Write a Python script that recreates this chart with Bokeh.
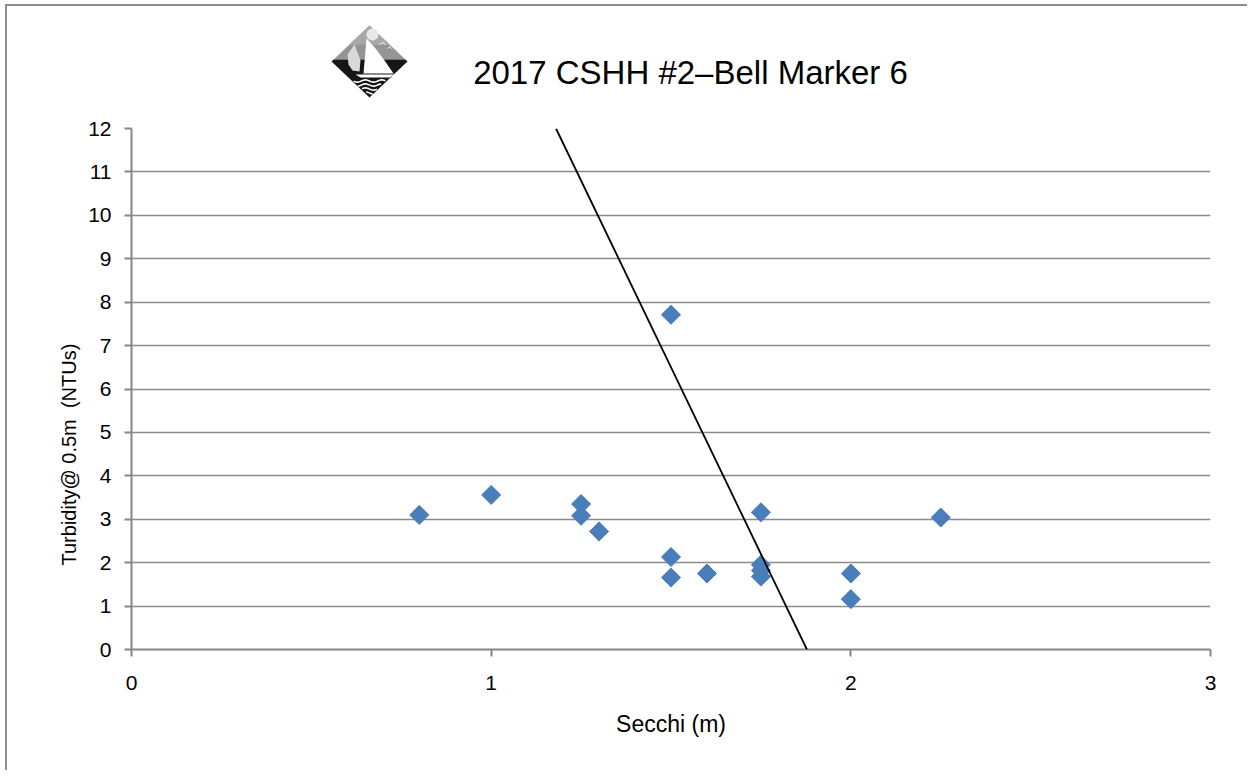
import numpy as np
from bokeh.plotting import figure
from bokeh.layouts import column
from bokeh.models import Range1d, FixedTicker, Slope, Title
from bokeh.embed import file_html
from bokeh.resources import INLINE
from bokeh.core.properties import value

# ---- chart data -------------------------------------------------------------
title_text = "2017 CSHH #2\u2013Bell Marker 6"
x_label = "Secchi (m)"
y_label = "Turbidity@ 0.5m\u00a0 (NTUs)"

secchi = [0.80, 1.00, 1.25, 1.25, 1.30, 1.50, 1.50, 1.50, 1.60,
          1.75, 1.75, 1.75, 1.75, 2.00, 2.00, 2.25]
turbidity = [3.10, 3.56, 3.35, 3.08, 2.72, 7.71, 2.13, 1.66, 1.75,
             3.16, 1.95, 1.82, 1.68, 1.75, 1.16, 3.04]

x_ticks = [0, 1, 2, 3]
y_ticks = list(range(0, 13))

# linear trend line: turbidity = gradient * secchi + intercept
trend_gradient = -17.2
trend_intercept = 32.3

# ---- styling ----------------------------------------------------------------
FONT = "Liberation Sans"
GRID_GRAY = "#8a8a8a"
AXIS_GRAY = "#868686"
POINT_BLUE = "#4a7ebb"

W = 1240
HEAD_H = 110
MAIN_H = 654
BORDER_L, BORDER_R = 124, 37
Y0 = 6                      # top of the layout content on the page
FX0, FX1 = 131, 1210        # page x of the (shared) plot frame

# ---- header: logo + title ---------------------------------------------------
head = figure(width=W, height=HEAD_H,
              x_range=Range1d(FX0, FX1), y_range=Range1d(Y0 + HEAD_H, Y0),
              x_axis_location=None, y_axis_location=None,
              toolbar_location=None, output_backend="svg",
              min_border_left=BORDER_L, min_border_right=BORDER_R,
              min_border_top=0, min_border_bottom=0)
head.grid.grid_line_color = None
head.outline_line_color = None

# sailboat emblem inside a diamond
cx, cy, a, b = 369.0, 61.0, 38.0, 36.0
hy = 59.0  # horizon


def half_width(y):
    return a * (1 - abs(y - cy) / b)


sky_x = [cx, cx + half_width(hy), cx - half_width(hy)]
sky_y = [cy - b, hy, hy]
head.patch(sky_x, sky_y, fill_color="#959595", line_color=None)
ty = 44.0
head.patch([cx, cx + half_width(ty), cx - half_width(ty)], [cy - b, ty, ty],
           fill_color="#a9a9a9", line_color=None)

sea_x = [cx - half_width(hy), cx + half_width(hy), cx + a, cx, cx - a]
sea_y = [hy, hy, cy, cy + b, cy]
head.patch(sea_x, sea_y, fill_color="#161616", line_color=None)

# sun and birds
head.scatter([372], [34], marker="circle", size=12, fill_color="#e8e8e8", line_color=None)
head.multi_line([[379, 382, 385], [387, 389, 391]], [[44, 42, 44], [48, 46.5, 48]],
                line_color="#ffffff", line_width=1)

# jib, main sail, hull
head.patch([354, 347, 348, 352, 359, 360], [44, 54, 64, 70, 71, 60],
           fill_color="#d9d9d9", line_color=None)
head.patch([366, 363, 393, 384, 375], [38, 73, 73, 60, 48],
           fill_color="#ffffff", line_color=None)
head.patch([355, 394, 389, 360], [74, 74, 77, 77], fill_color="#ffffff", line_color=None)

# waves
wave_xs, wave_ys = [], []
for k in range(4):
    yk = 80.5 + 4.0 * k
    hw = half_width(yk) - 1.5
    xs = np.linspace(cx - hw, cx + hw, 40)
    wave_xs.append(list(xs))
    wave_ys.append(list(yk + 1.1 * np.sin((xs - cx) / 2.6)))
head.multi_line(wave_xs, wave_ys, line_color="#ffffff", line_width=1.6)

head.text(x=[690], y=[72], text=[title_text], text_align="center",
          text_baseline="middle", text_font=value(FONT), text_font_size="33px",
          text_color="#000000")

# ---- main scatter chart -----------------------------------------------------
p = figure(width=W, height=MAIN_H,
           x_range=Range1d(0, 3), y_range=Range1d(0, 12),
           toolbar_location=None, output_backend="svg",
           min_border_left=BORDER_L, min_border_right=BORDER_R,
           min_border_top=12, min_border_bottom=121)
p.outline_line_color = None

p.xaxis.ticker = FixedTicker(ticks=x_ticks)
p.yaxis.ticker = FixedTicker(ticks=y_ticks)
for ax in (p.xaxis[0], p.yaxis[0]):
    ax.axis_line_color = AXIS_GRAY
    ax.axis_line_width = 2
    ax.major_tick_line_color = AXIS_GRAY
    ax.major_tick_line_width = 2
    ax.major_tick_in = 0
    ax.major_tick_out = 7
    ax.minor_tick_line_color = None
    ax.major_label_text_color = "#000000"
    ax.major_label_text_font = FONT
    ax.major_label_text_font_size = "21px"
    ax.axis_label_text_color = "#000000"
    ax.axis_label_text_font = FONT
    ax.axis_label_text_font_style = "normal"

p.xaxis.major_label_standoff = 19
p.xaxis.axis_label = x_label
p.xaxis.axis_label_text_font_size = "23px"
p.xaxis.axis_label_standoff = 18

p.yaxis.major_label_standoff = 13

# vertical axis title sits a little below the frame centre
p.add_layout(Title(text=y_label, align="left", offset=84, standoff=11,
                   text_font=FONT, text_font_size="20px",
                   text_font_style="normal", text_color="#000000"), "left")

p.xgrid.grid_line_color = None
p.ygrid.grid_line_color = GRID_GRAY
p.ygrid.grid_line_width = 1.7

p.scatter(secchi, turbidity, marker="square", angle=np.pi / 4, size=13.5,
          fill_color=POINT_BLUE, line_color=POINT_BLUE, line_width=1)

p.add_layout(Slope(gradient=trend_gradient, y_intercept=trend_intercept,
                   line_color="#000000", line_width=1.8))

layout = column(head, p, spacing=0,
                styles={"margin-left": "5px", "margin-top": "4px",
                        "border-top": "2px solid #8e8e8e",
                        "border-left": "2px solid #8e8e8e"})

open("out.html", "w").write(file_html(layout, INLINE))
